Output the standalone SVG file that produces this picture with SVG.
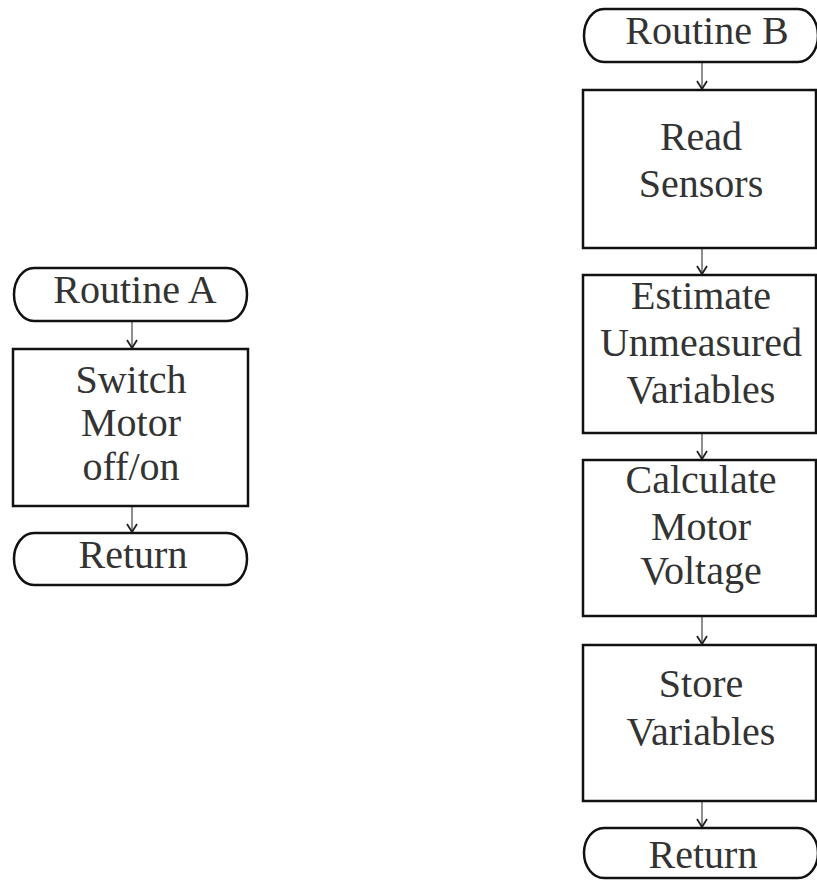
<svg xmlns="http://www.w3.org/2000/svg" width="817" height="880" viewBox="0 0 817 880">
  <style>
    .box { fill: #ffffff; stroke: #111111; stroke-width: 2.5; }
    .term { fill: #ffffff; stroke: #111111; stroke-width: 2.5; }
    .flow { stroke: #444444; stroke-width: 1.2; fill: none; }
  </style>
  <defs>
    <marker id="vee" viewBox="0 0 12 12" refX="11" refY="6" markerWidth="12" markerHeight="12" markerUnits="userSpaceOnUse" orient="auto">
      <path d="M3,1 L11,6 L3,11" fill="none" stroke="#222222" stroke-width="1.8"/>
    </marker>
  </defs>
  <rect width="817" height="880" fill="#ffffff"/>

  <!-- connectors -->
  <g id="connectors" class="flow">
    <line x1="132" y1="321" x2="132" y2="348" marker-end="url(#vee)"/>
    <line x1="132" y1="507" x2="132" y2="532" marker-end="url(#vee)"/>
    <line x1="702" y1="62" x2="702" y2="89" marker-end="url(#vee)"/>
    <line x1="702" y1="249" x2="702" y2="274" marker-end="url(#vee)"/>
    <line x1="702" y1="434" x2="702" y2="459" marker-end="url(#vee)"/>
    <line x1="702" y1="617" x2="702" y2="644" marker-end="url(#vee)"/>
    <line x1="702" y1="802" x2="702" y2="827" marker-end="url(#vee)"/>
  </g>

  <!-- Routine A -->
  <g id="routineA">
    <path class="term" d="M34,268 H227 A20,26.5 0 0 1 227,321 H34 A20,26.5 0 0 1 34,268 Z"/>
    <text font-family="Liberation Serif, serif" font-size="40" fill="#333333" text-anchor="middle" x="135" y="303">Routine A</text>
  </g>
  <g id="switchMotor">
    <rect class="box" x="13" y="349" width="235" height="157"/>
    <text font-family="Liberation Serif, serif" font-size="40" fill="#333333" text-anchor="middle" x="131" y="393">Switch</text>
    <text font-family="Liberation Serif, serif" font-size="40" fill="#333333" text-anchor="middle" x="131" y="436">Motor</text>
    <text font-family="Liberation Serif, serif" font-size="40" fill="#333333" text-anchor="middle" x="131" y="480">off/on</text>
  </g>
  <g id="returnA">
    <path class="term" d="M34,533 H227 A20,26 0 0 1 227,585 H34 A20,26 0 0 1 34,533 Z"/>
    <text font-family="Liberation Serif, serif" font-size="40" fill="#333333" text-anchor="middle" x="133" y="568">Return</text>
  </g>

  <!-- Routine B -->
  <g id="routineB">
    <path class="term" d="M604,9 H798 A20,26.5 0 0 1 798,62 H604 A20,26.5 0 0 1 604,9 Z"/>
    <text font-family="Liberation Serif, serif" font-size="40" fill="#333333" text-anchor="middle" x="707" y="44">Routine B</text>
  </g>
  <g id="readSensors">
    <rect class="box" x="583" y="90" width="233" height="158"/>
    <text font-family="Liberation Serif, serif" font-size="40" fill="#333333" text-anchor="middle" x="701" y="150">Read</text>
    <text font-family="Liberation Serif, serif" font-size="40" fill="#333333" text-anchor="middle" x="701" y="197">Sensors</text>
  </g>
  <g id="estimate">
    <rect class="box" x="583" y="275" width="233" height="158"/>
    <text font-family="Liberation Serif, serif" font-size="40" fill="#333333" text-anchor="middle" x="701" y="309">Estimate</text>
    <text font-family="Liberation Serif, serif" font-size="40" fill="#333333" text-anchor="middle" x="701" y="356">Unmeasured</text>
    <text font-family="Liberation Serif, serif" font-size="40" fill="#333333" text-anchor="middle" x="701" y="403">Variables</text>
  </g>
  <g id="calculate">
    <rect class="box" x="583" y="460" width="233" height="156"/>
    <text font-family="Liberation Serif, serif" font-size="40" fill="#333333" text-anchor="middle" x="701" y="493">Calculate</text>
    <text font-family="Liberation Serif, serif" font-size="40" fill="#333333" text-anchor="middle" x="701" y="540">Motor</text>
    <text font-family="Liberation Serif, serif" font-size="40" fill="#333333" text-anchor="middle" x="701" y="584">Voltage</text>
  </g>
  <g id="storeVariables">
    <rect class="box" x="583" y="645" width="233" height="156"/>
    <text font-family="Liberation Serif, serif" font-size="40" fill="#333333" text-anchor="middle" x="701" y="697">Store</text>
    <text font-family="Liberation Serif, serif" font-size="40" fill="#333333" text-anchor="middle" x="701" y="745">Variables</text>
  </g>
  <g id="returnB">
    <path class="term" d="M604,828 H798 A20,25 0 0 1 798,878 H604 A20,25 0 0 1 604,828 Z"/>
    <text font-family="Liberation Serif, serif" font-size="40" fill="#333333" text-anchor="middle" x="703" y="868">Return</text>
  </g>
</svg>
